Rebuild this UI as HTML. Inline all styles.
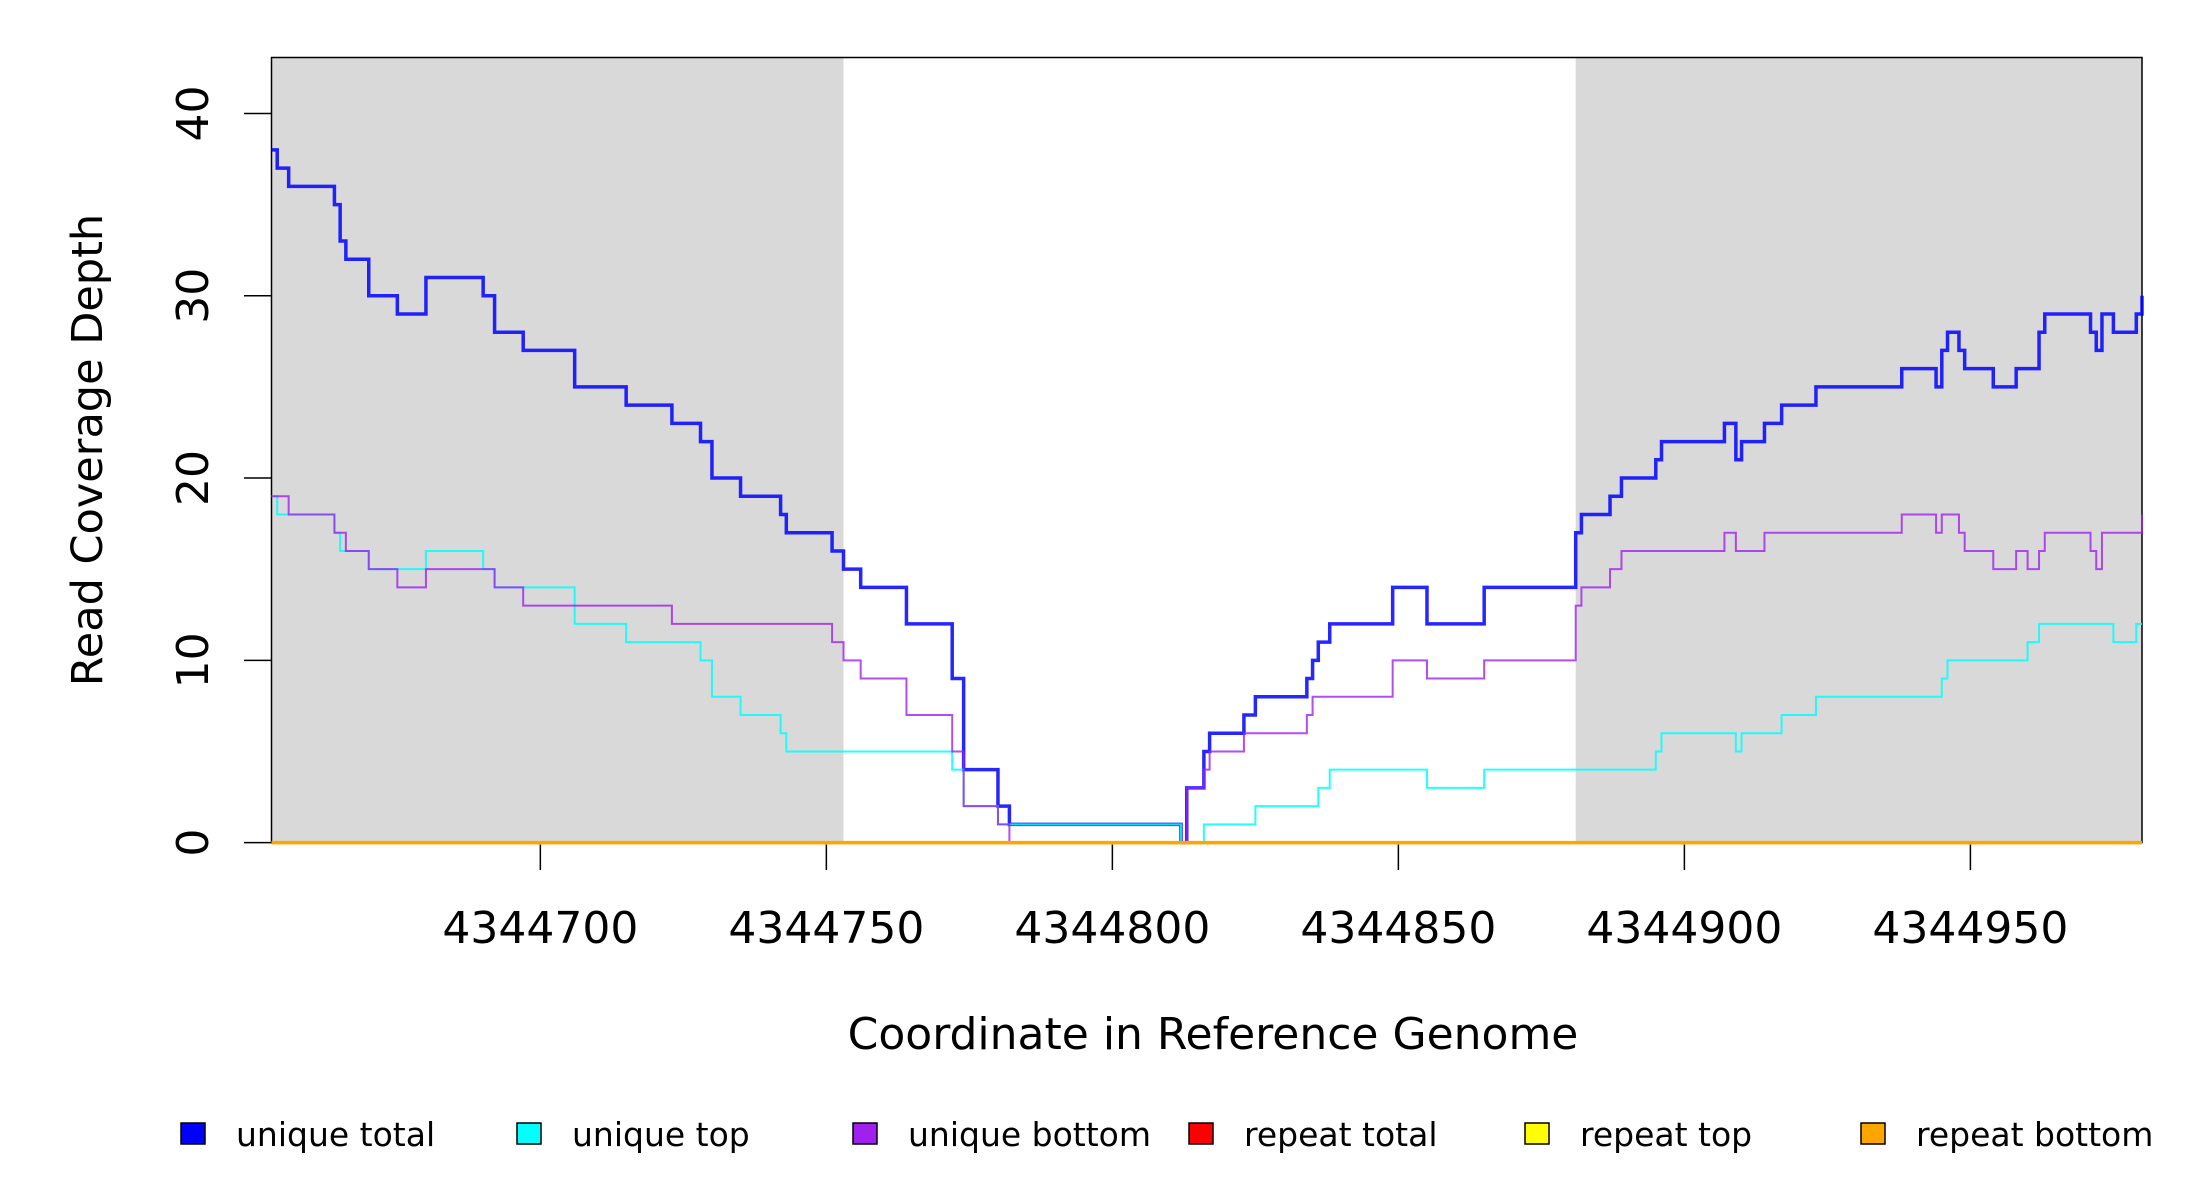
<!DOCTYPE html>
<html><head><meta charset="utf-8"><style>
html,body{margin:0;padding:0;background:#fff;}
svg{display:block;font-family:"DejaVu Sans","Liberation Sans",sans-serif;}
</style></head><body>
<svg id="chart" width="2200" height="1200" viewBox="0 0 2200 1200" xmlns="http://www.w3.org/2000/svg">
<g id="shade"></g>
<rect x="271.5" y="57.5" width="1870.5" height="785" fill="none" stroke="#000" stroke-width="1.5"/>
<g id="series"></g>
<g id="axes"></g>
<text x="1213" y="1049" font-size="44" text-anchor="middle">Coordinate in Reference Genome</text>
<text transform="translate(102,450) rotate(-90)" font-size="43" text-anchor="middle">Read Coverage Depth</text>
<g id="legend"></g>
</svg>
<script>
const xDomain=[4344653,4344980];
const yDomain=[0,43.07];
const xTicks=[4344700,4344750,4344800,4344850,4344900,4344950];
const yTicks=[0,10,20,30,40];
const shadeRegions=[[4344653,4344753],[4344881,4344980]];
const totalX=[4344653,4344654,4344656,4344664,4344665,4344666,4344670,4344675,4344680,4344690,4344692,4344697,4344706,4344715,4344723,4344728,4344730,4344735,4344742,4344743,4344751,4344753,4344756,4344764,4344772,4344774,4344780,4344782,4344812,4344813,4344816,4344817,4344823,4344825,4344834,4344835,4344836,4344838,4344849,4344855,4344865,4344881,4344882,4344887,4344889,4344895,4344896,4344907,4344909,4344910,4344914,4344917,4344923,4344938,4344944,4344945,4344946,4344948,4344949,4344954,4344958,4344962,4344963,4344971,4344972,4344973,4344975,4344979,4344980];
const totalY=[38,37,36,35,33,32,30,29,31,30,28,27,25,24,23,22,20,19,18,17,16,15,14,12,9,4,2,1,0,3,5,6,7,8,9,10,11,12,14,12,14,17,18,19,20,21,22,23,21,22,23,24,25,26,25,27,28,27,26,25,26,28,29,28,27,29,28,29,30];
const topX=[4344653,4344654,4344664,4344665,4344670,4344680,4344690,4344692,4344706,4344715,4344728,4344730,4344735,4344742,4344743,4344772,4344774,4344780,4344812,4344816,4344825,4344836,4344838,4344855,4344865,4344895,4344896,4344909,4344910,4344917,4344923,4344945,4344946,4344960,4344962,4344975,4344979];
const topY=[19,18,17,16,15,16,15,14,12,11,10,8,7,6,5,4,2,1,0,1,2,3,4,3,4,5,6,5,6,7,8,9,10,11,12,11,12];
const bottomX=[4344653,4344656,4344664,4344666,4344670,4344675,4344680,4344692,4344697,4344723,4344751,4344753,4344756,4344764,4344772,4344774,4344780,4344782,4344813,4344816,4344817,4344823,4344834,4344835,4344849,4344855,4344865,4344881,4344882,4344887,4344889,4344907,4344909,4344914,4344938,4344944,4344945,4344948,4344949,4344954,4344958,4344960,4344962,4344963,4344971,4344972,4344973,4344980];
const bottomY=[19,18,17,16,15,14,15,14,13,12,11,10,9,7,5,2,1,0,3,4,5,6,7,8,10,9,10,13,14,15,16,17,16,17,18,17,18,17,16,15,16,15,16,17,16,15,17,18];
const repeatX=[4344653,4344980];
const repeatTotalY=[0,0];
const repeatTopY=[0,0];
const repeatBottomY=[0,0];
const legendLabels=["unique total","unique top","unique bottom","repeat total","repeat top","repeat bottom"];
const legendColors=["#0000ff","#00ffff","#a020f0","#ff0000","#ffff00","#ffa500"];

const X0=271.5,X1=2142,Y0=842.6,Y1=57.5;
const sx=v=>X0+(v-xDomain[0])/(xDomain[1]-xDomain[0])*(X1-X0);
const sy=v=>Y0-(v-yDomain[0])/(yDomain[1]-yDomain[0])*(Y0-Y1);
const NS="http://www.w3.org/2000/svg";
function mk(tag,attrs,parent){const e=document.createElementNS(NS,tag);for(const k in attrs)e.setAttribute(k,attrs[k]);parent.appendChild(e);return e;}

const shade=document.getElementById('shade');
shadeRegions.forEach(r=>{
  const e=mk('rect',{x:sx(r[0]),y:Y1,width:sx(r[1])-sx(r[0]),height:Y0-Y1,fill:'#d9d9d9'},shade);
  
  
});

function stepPath(xs,ys){
  let d='M'+sx(xs[0])+','+sy(ys[0]);
  for(let i=1;i<xs.length;i++){d+=' H'+sx(xs[i])+' V'+sy(ys[i]);}
  d+=' H'+sx(xDomain[1]);
  return d;
}
const series=document.getElementById('series');
function line(xs,ys,color,w,op,name){
  const p=mk('path',{d:stepPath(xs,ys),fill:'none',stroke:color,'stroke-width':w,'stroke-opacity':op},series);
  
  
}
line(totalX,totalY,'#0000ff',3.5,0.85,'unique-total-line');
line(topX,topY,'#00ffff',2,0.85,'unique-top-line');
line(bottomX,bottomY,'#a020f0',2,0.8,'unique-bottom-line');
line(repeatX,repeatTotalY,'#ff0000',3,1,'repeat-total-line');
line(repeatX,repeatTopY,'#ffff00',3,1,'repeat-top-line');
line(repeatX,repeatBottomY,'#ffa500',3.5,1,'repeat-bottom-line');

const axes=document.getElementById('axes');
xTicks.forEach(t=>{
  const l=mk('line',{x1:sx(t),x2:sx(t),y1:Y0+2,y2:870,stroke:'#000','stroke-width':1.5},axes);
  
  
  const tx=mk('text',{x:sx(t),y:943,'font-size':44,'text-anchor':'middle'},axes);
  tx.textContent=t;
  
  
});
yTicks.forEach(t=>{
  const l=mk('line',{x1:244,x2:X0,y1:sy(t),y2:sy(t),stroke:'#000','stroke-width':1.5},axes);
  
  
  const tx=mk('text',{transform:'translate(208,'+sy(t)+') rotate(-90)','font-size':44,'text-anchor':'middle'},axes);
  tx.textContent=t;
  
  
});

const legend=document.getElementById('legend');
legendLabels.forEach((lab,i)=>{
  const bx=181+i*336;
  const g=mk('g',{},legend);
  
  
  mk('rect',{x:bx,y:1123,width:24,height:21,fill:legendColors[i],stroke:'#000','stroke-width':1.5},g);
  const tx=mk('text',{x:bx+55,y:1146,'font-size':33},g);
  tx.textContent=lab;
});
</script>
</body></html>
